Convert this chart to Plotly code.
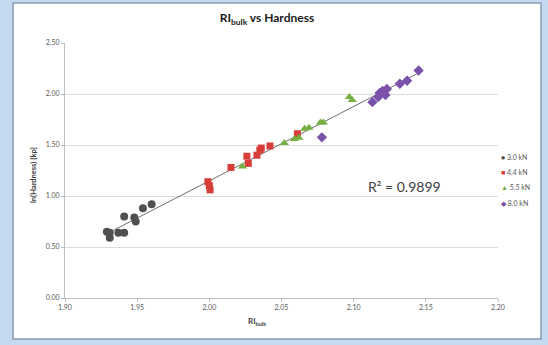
import numpy as np
import plotly.graph_objects as go

# ---- data ----
series_names = ["3.0 kN", "4.4 kN", "5.5 kN", "8.0 kN"]

ri_30 = [1.929, 1.931, 1.931, 1.937, 1.941, 1.941, 1.948, 1.949, 1.954, 1.960]
ln_30 = [0.65, 0.64, 0.59, 0.64, 0.64, 0.80, 0.79, 0.75, 0.88, 0.92]

ri_44 = [1.999, 2.000, 2.0005, 2.015, 2.026, 2.027, 2.033, 2.035, 2.036, 2.042, 2.061]
ln_44 = [1.14, 1.10, 1.06, 1.28, 1.39, 1.32, 1.40, 1.45, 1.47, 1.49, 1.61]

ri_55 = [2.023, 2.052, 2.059, 2.062, 2.066, 2.069, 2.077, 2.079, 2.097, 2.099]
ln_55 = [1.29, 1.52, 1.56, 1.57, 1.66, 1.67, 1.72, 1.72, 1.97, 1.94]

ri_80 = [2.078, 2.113, 2.117, 2.118, 2.120, 2.122, 2.123, 2.132, 2.137, 2.145]
ln_80 = [1.575, 1.92, 1.97, 2.01, 2.03, 1.99, 2.05, 2.10, 2.13, 2.23]

r2_label = "R² = 0.9899"
x_ticks = [1.90, 1.95, 2.00, 2.05, 2.10, 2.15, 2.20]
y_ticks = [0.00, 0.50, 1.00, 1.50, 2.00, 2.50]

# ---- styles ----
colors = ["#4f4f4f", "#d63c38", "#76b041", "#7a52aa"]
symbols = ["circle", "square", "triangle-up", "diamond"]
glyphs = ["●", "■", "▲", "◆"]
FONT = "Lato, 'Open Sans', sans-serif"

xs = [ri_30, ri_44, ri_55, ri_80]
ys = [ln_30, ln_44, ln_55, ln_80]

fig = go.Figure()

# linear trendline over all points
all_x = np.concatenate([np.array(v, float) for v in xs])
all_y = np.concatenate([np.array(v, float) for v in ys])
slope, intercept = np.polyfit(all_x, all_y, 1)
tx = np.array([all_x.min(), all_x.max()])
fig.add_trace(go.Scatter(x=tx, y=slope * tx + intercept, mode="lines",
                         line=dict(color="#6e6e6e", width=1),
                         showlegend=False, hoverinfo="skip"))

sizes = [8, 7, 8, 8]
for name, x, y, c, s, sz in zip(series_names, xs, ys, colors, symbols, sizes):
    fig.add_trace(go.Scatter(x=x, y=y, mode="markers", name=name,
                             marker=dict(color=c, symbol=s, size=sz, line=dict(width=0)),
                             showlegend=False))

# pixel helpers (plot area: x 65..498, y 43..298)
L, R, T, B = 65, 498, 43, 298
W, H = R - L, B - T
def px(xp): return (xp - L) / W
def py(yp): return (B - yp) / H

shapes = [
    dict(type="rect", xref="paper", yref="paper", layer="below",
         x0=px(13), x1=px(541), y0=py(339), y1=py(3),
         fillcolor="white", line=dict(color="#8a9cb0", width=1.5)),
]

annotations = [
    dict(text="<b>ln(Hardness) [kp]</b>", xref="paper", yref="paper",
         x=px(34), y=py(175), textangle=-90, showarrow=False,
         xanchor="center", yanchor="middle",
         font=dict(family=FONT, size=7.5, color="#404040")),
    dict(text="<b>RI<sub>bulk</sub></b>", xref="paper", yref="paper",
         x=px(257), y=py(321), showarrow=False,
         xanchor="center", yanchor="middle",
         font=dict(family=FONT, size=8, color="#404040")),
    dict(text=r2_label, xref="paper", yref="paper",
         x=px(404), y=py(186), showarrow=False,
         xanchor="center", yanchor="middle",
         font=dict(family=FONT, size=14, color="#404040")),
]
leg_y = [157, 172, 187, 203]
for name, c, g, ly in zip(series_names, colors, glyphs, leg_y):
    annotations.append(dict(
        text=f"<span style='color:{c}'>{g}</span> {name}",
        xref="paper", yref="paper", x=px(499), y=py(ly),
        xanchor="left", yanchor="middle", showarrow=False,
        font=dict(family=FONT, size=7, color="#595959")))

fig.update_layout(
    width=548, height=345,
    margin=dict(l=L, r=548 - R, t=T, b=345 - B),
    paper_bgcolor="#c4daf1", plot_bgcolor="white",
    title=dict(text="<b>RI<sub>bulk</sub> vs Hardness</b>",
               x=267 / 548, xanchor="center", y=1 - 18 / 345, yanchor="middle",
               font=dict(family=FONT, size=12, color="#1a1a1a")),
    shapes=shapes, annotations=annotations,
    showlegend=False,
    font=dict(family=FONT, size=7, color="#595959"),
)
fig.update_xaxes(range=[1.90, 2.20], tickvals=x_ticks, tickformat=".2f",
                 showgrid=False, zeroline=False, showline=True,
                 linecolor="#bfbfbf", linewidth=1, ticks="outside",
                 ticklen=3, tickcolor="#bfbfbf",
                 tickfont=dict(family=FONT, size=7, color="#595959"))
fig.update_yaxes(range=[0, 2.5], tickvals=y_ticks, tickformat=".2f",
                 showgrid=True, gridcolor="#dcdcdc", gridwidth=1,
                 zeroline=False, showline=True,
                 linecolor="#bfbfbf", linewidth=1, ticks="outside",
                 ticklen=3, tickcolor="#bfbfbf",
                 tickfont=dict(family=FONT, size=7, color="#595959"))

fig.write_html("out.html", config={"displayModeBar": False},
               post_script="document.body.style.margin='0px';document.body.style.overflow='hidden';")
